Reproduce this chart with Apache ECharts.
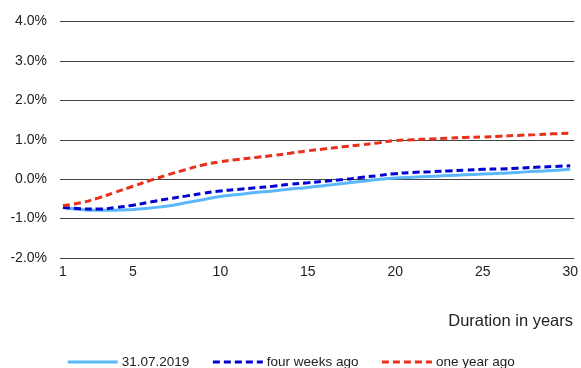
<!DOCTYPE html>
<html>
<head>
<meta charset="utf-8">
<script src="https://cdn.jsdelivr.net/npm/echarts@6/dist/echarts.min.js"></script>
<style>html,body{margin:0;padding:0;background:#fff;}#c{width:581px;height:368px;}</style>
</head>
<body>
<div id="c"></div>
<script>
var years = [1,2,3,4,5,6,7,8,9,10,11,12,13,14,15,16,17,18,19,20,21,22,23,24,25,26,27,28,29,30];
var xTickLabels = [1,5,10,15,20,25,30];
var yTicks = [-2,-1,0,1,2,3,4];
var seriesNames = ['31.07.2019','four weeks ago','one year ago'];
var current = [-0.72,-0.77,-0.79,-0.79,-0.77,-0.73,-0.68,-0.60,-0.52,-0.44,-0.39,-0.34,-0.30,-0.25,-0.21,-0.16,-0.11,-0.06,-0.01,0.03,0.05,0.07,0.09,0.11,0.13,0.15,0.17,0.20,0.22,0.25];
var fourWeeks = [-0.71,-0.75,-0.76,-0.72,-0.66,-0.58,-0.50,-0.43,-0.36,-0.30,-0.26,-0.22,-0.18,-0.13,-0.09,-0.05,-0.01,0.04,0.09,0.14,0.17,0.19,0.21,0.23,0.25,0.26,0.28,0.30,0.32,0.34];
var oneYear = [-0.67,-0.60,-0.48,-0.33,-0.18,-0.03,0.11,0.24,0.36,0.44,0.50,0.55,0.60,0.66,0.72,0.77,0.82,0.87,0.92,0.98,1.00,1.02,1.04,1.06,1.07,1.09,1.11,1.13,1.15,1.17];

function pairs(vals){ return years.map(function(y,i){ return [y, vals[i]]; }); }

var chart = echarts.init(document.getElementById('c'), null, {renderer:'canvas'});
var font = 'Arial, "Liberation Sans", sans-serif';
chart.setOption({
  animation: false,
  backgroundColor: '#fff',
  grid: {left: 60, right: 6, top: 21.5, bottom: 110, containLabel: false},
  xAxis: {
    type: 'value', min: 0.83, max: 30.23,
    axisLine: {show: false}, axisTick: {show: false}, splitLine: {show: false},
    axisLabel: {customValues: xTickLabels, color: '#222', fontSize: 14, fontFamily: font, margin: 7}
  },
  yAxis: {
    type: 'value', min: yTicks[0], max: yTicks[yTicks.length-1], interval: 1,
    axisLine: {show: false}, axisTick: {show: false},
    splitLine: {show: true, lineStyle: {color: '#444', width: 1}},
    axisLabel: {color: '#222', fontSize: 14, fontFamily: font, margin: 13,
      formatter: function(v){ return v.toFixed(1) + '%'; }}
  },
  legend: {
    top: 350, left: 'center', itemWidth: 50, itemHeight: 14, itemGap: 22,
    itemStyle: {opacity: 0},
    lineStyle: {width: 3},
    textStyle: {color: '#222', fontSize: 13.5, fontFamily: font, padding: [0,0,0,-1]},
    data: seriesNames
  },
  graphic: [{
    type: 'text', right: 8, top: 313,
    style: {text: 'Duration in years', fill: '#222', font: '16.5px ' + font}
  }],
  series: [
    {name: seriesNames[0], type: 'line', smooth: true, symbol: 'none', data: pairs(current),
     lineStyle: {color: '#5cb8fc', width: 3}, itemStyle: {color: '#5cb8fc'}},
    {name: seriesNames[1], type: 'line', smooth: true, symbol: 'none', data: pairs(fourWeeks),
     lineStyle: {color: '#0000d0', width: 3, type: [7,4]}, itemStyle: {color: '#0000d0'}},
    {name: seriesNames[2], type: 'line', smooth: true, symbol: 'none', data: pairs(oneYear),
     lineStyle: {color: '#e8301c', width: 3, type: [7,4]}, itemStyle: {color: '#e8301c'}}
  ]
});
</script>
</body>
</html>
